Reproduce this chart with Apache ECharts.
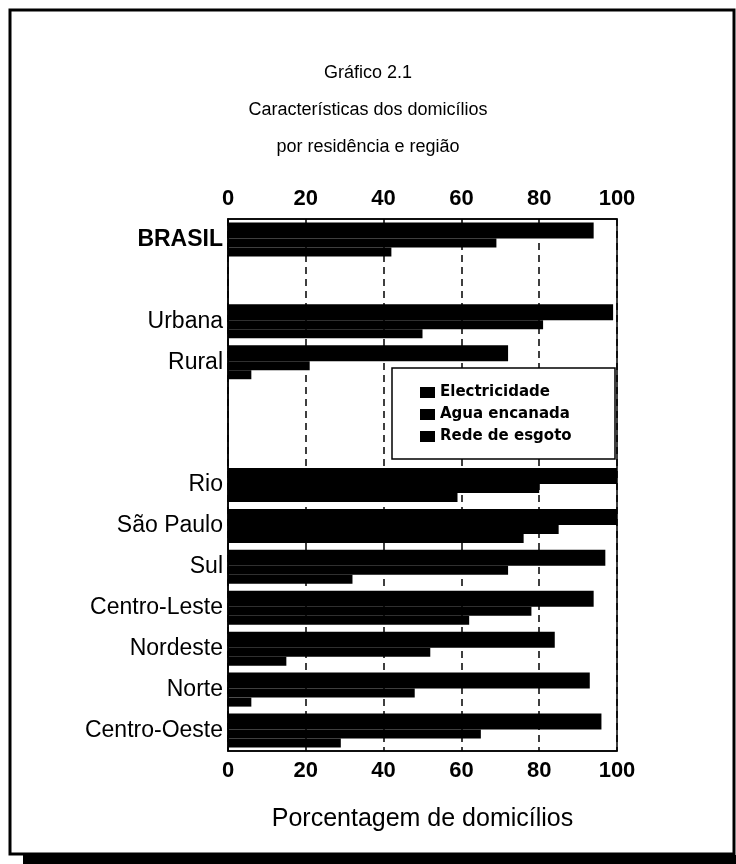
<!DOCTYPE html>
<html>
<head>
<meta charset="utf-8">
<script src="https://cdn.jsdelivr.net/npm/echarts@6/dist/echarts.min.js"></script>
<style>
  html, body { margin: 0; padding: 0; background: #fff; }
  #chart { width: 736px; height: 864px; }
</style>
</head>
<body>
<div id="chart"></div>
<script>
// categorias (as linhas vazias sao os espacos entre os grupos)
var categories = ['BRASIL', '', 'Urbana', 'Rural', ' ', '  ', 'Rio', 'São Paulo', 'Sul', 'Centro-Leste', 'Nordeste', 'Norte', 'Centro-Oeste'];
var electricidade = [94, '-', 99, 72, '-', '-', 100, 100, 97, 94, 84, 93, 96];
var aguaEncanada = [69, '-', 81, 21, '-', '-', 80, 85, 72, 78, 52, 48, 65];
var redeEsgoto = [42, '-', 50, 6, '-', '-', 59, 76, 32, 62, 15, 6, 29];
var xTicks = [0, 20, 40, 60, 80, 100];

var font = 'Liberation Sans, Arial, sans-serif';
var chartDom = document.getElementById('chart');
var myChart = echarts.init(chartDom);

var xAxisBase = {
    type: 'value',
    min: xTicks[0],
    max: xTicks[xTicks.length - 1],
    interval: xTicks[1] - xTicks[0],
    axisTick: { show: false },
    axisLine: { show: true, lineStyle: { color: '#000', width: 1.5 } },
    axisLabel: {
        color: '#000',
        fontFamily: font,
        fontWeight: 'bold',
        fontSize: 22,
        margin: 9
    }
};

var option = {
    backgroundColor: '#fff',
    animation: false,
    color: ['#000', '#000', '#000'],
    title: {
        text: 'Gráfico 2.1\nCaracterísticas dos domicílios\npor residência e região',
        left: 'center',
        top: 50,
        textStyle: {
            color: '#000',
            fontFamily: font,
            fontWeight: 'normal',
            fontSize: 18,
            lineHeight: 37
        }
    },
    legend: {
        orient: 'vertical',
        left: 420,
        top: 385,
        padding: 0,
        itemGap: 7,
        itemWidth: 15,
        itemHeight: 11,
        icon: 'rect',
        selectedMode: false,
        z: 5,
        textStyle: {
            color: '#000',
            fontFamily: 'DejaVu Sans, sans-serif',
            fontWeight: 'bold',
            fontSize: 15
        },
        data: ['Electricidade', 'Agua encanada', 'Rede de esgoto']
    },
    grid: {
        left: 228,
        right: 119,
        top: 219,
        bottom: 113,
        show: true,
        borderColor: '#000',
        borderWidth: 1.5
    },
    xAxis: [
        Object.assign({}, xAxisBase, {
            position: 'bottom',
            name: 'Porcentagem de domicílios',
            nameLocation: 'middle',
            nameGap: 56,
            nameTextStyle: { color: '#000', fontFamily: font, fontSize: 25 },
            splitLine: {
                show: true,
                lineStyle: { color: '#000', width: 1.5, type: [7, 5] }
            }
        }),
        Object.assign({}, xAxisBase, {
            position: 'top',
            splitLine: { show: false }
        })
    ],
    yAxis: {
        type: 'category',
        inverse: true,
        data: categories,
        axisTick: { show: false },
        axisLine: { show: true, lineStyle: { color: '#000', width: 1.5 } },
        axisLabel: {
            color: '#000',
            fontFamily: font,
            fontSize: 23,
            margin: 5,
            formatter: function (value) {
                return value === 'BRASIL' ? '{b|' + value + '}' : value;
            },
            rich: {
                b: { color: '#000', fontFamily: font, fontSize: 23, fontWeight: 'bold' }
            }
        }
    },
    series: [
        {
            name: 'Electricidade',
            type: 'bar',
            barWidth: 16,
            barGap: '0%',
            data: electricidade
        },
        {
            name: 'Agua encanada',
            type: 'bar',
            barWidth: 9,
            barGap: '0%',
            data: aguaEncanada
        },
        {
            name: 'Rede de esgoto',
            type: 'bar',
            barWidth: 9,
            barGap: '0%',
            data: redeEsgoto
        }
    ],
    graphic: [
        {
            // moldura
            type: 'rect',
            shape: { x: 10, y: 10, width: 724, height: 844 },
            style: { fill: null, stroke: '#000', lineWidth: 3 },
            silent: true
        },
        {
            // sombra em baixo
            type: 'rect',
            shape: { x: 23, y: 855, width: 713, height: 9 },
            style: { fill: '#000' },
            silent: true
        },
        {
            // caixa da legenda
            type: 'rect',
            z: 4,
            shape: { x: 392, y: 368, width: 223, height: 91 },
            style: { fill: '#fff', stroke: '#000', lineWidth: 1.5 },
            silent: true
        }
    ]
};
myChart.setOption(option);
</script>
</body>
</html>
